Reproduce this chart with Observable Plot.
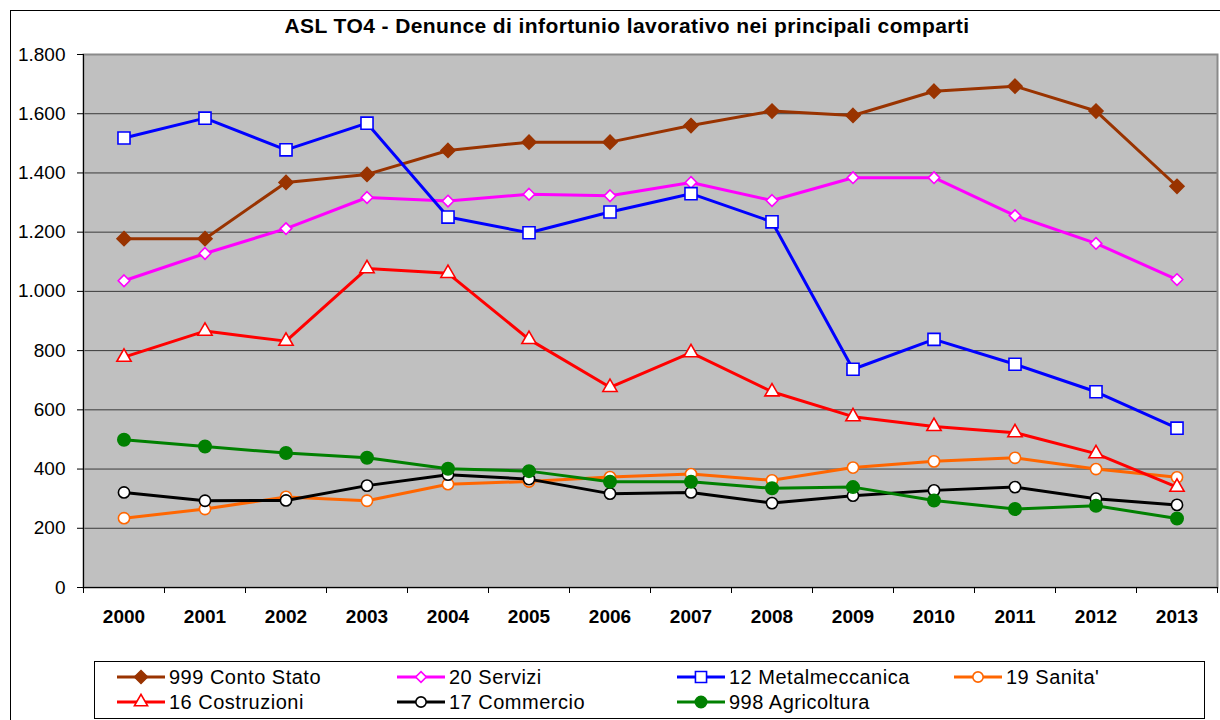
<!DOCTYPE html>
<html>
<head>
<meta charset="utf-8">
<script src="https://cdn.jsdelivr.net/npm/d3@7"></script>
<script src="https://cdn.jsdelivr.net/npm/@observablehq/plot@0.6"></script>
<style>
  html, body { margin: 0; padding: 0; background: #fff; }
  #root { position: relative; width: 1220px; height: 720px; overflow: hidden; font-family: "Liberation Sans", Arial, sans-serif; }
  #outer { position: absolute; left: 10px; top: 10px; width: 1230px; height: 730px; border: 1.5px solid #000; box-sizing: border-box; }
  #title { position: absolute; left: 0; width: 1254px; top: 14px; text-align: center; font-weight: bold; font-size: 21px; letter-spacing: 0.4px; color: #000; }
  #chart { position: absolute; left: 0; top: 0; }
  #legend { position: absolute; left: 94px; top: 661px; width: 1111px; height: 58px; border: 1px solid #000; box-sizing: border-box; background: #fff; }
  .item { position: absolute; height: 24px; display: flex; align-items: center; font-size: 20px; letter-spacing: 0.5px; color: #000; white-space: nowrap; }
  .item svg { margin-right: 3px; }
</style>
</head>
<body>
<div id="root">
  <div id="outer"></div>
  <div id="chart"></div>
  <div id="title">ASL TO4 - Denunce di infortunio lavorativo nei principali comparti</div>
  <div id="legend"></div>
</div>
<script>
// ---- data ----
const years = [2000, 2001, 2002, 2003, 2004, 2005, 2006, 2007, 2008, 2009, 2010, 2011, 2012, 2013];
const seriesNames = ["999 Conto Stato", "20 Servizi", "12 Metalmeccanica", "19 Sanita'", "16 Costruzioni", "17 Commercio", "998 Agricoltura"];
const contoStato     = [1178, 1178, 1368, 1395, 1476, 1504, 1504, 1560, 1609, 1594, 1676, 1693, 1609, 1355];
const servizi        = [1036, 1128, 1212, 1317, 1305, 1328, 1323, 1368, 1307, 1384, 1384, 1256, 1162, 1040];
const metalmeccanica = [1518, 1585, 1478, 1568, 1251, 1198, 1268, 1330, 1235, 737, 838, 754, 661, 538];
const sanita         = [234, 265, 306, 293, 349, 358, 373, 383, 362, 405, 426, 438, 400, 372];
const costruzioni    = [778, 866, 832, 1077, 1061, 838, 676, 793, 661, 577, 544, 523, 452, 339];
const commercio      = [321, 293, 294, 344, 381, 366, 317, 321, 285, 310, 328, 339, 300, 279];
const agricoltura    = [499, 476, 454, 438, 401, 393, 357, 357, 335, 339, 294, 265, 276, 233];
const yTicks = [0, 200, 400, 600, 800, 1000, 1200, 1400, 1600, 1800];

const seriesValues = [contoStato, servizi, metalmeccanica, sanita, costruzioni, commercio, agricoltura];

// ---- styles ----
const styles = [
  {color: "#993300", symbol: "diamond2", fill: "#993300", r: 6.3},
  {color: "#FF00FF", symbol: "diamond2", fill: "#ffffff", r: 5.2},
  {color: "#0000FF", symbol: "square",   fill: "#ffffff", r: 6.8},
  {color: "#FF6600", symbol: "circle",   fill: "#ffffff", r: 5.6},
  {color: "#FF0000", symbol: "triangle", fill: "#ffffff", r: 5.3},
  {color: "#000000", symbol: "circle",   fill: "#ffffff", r: 5.6},
  {color: "#008000", symbol: "circle",   fill: "#008000", r: 6.2}
];

const locale = d3.formatLocale({decimal: ",", thousands: ".", grouping: [3], currency: ["€", ""]});
const fmt = locale.format(",");

const tables = seriesNames.map((name, i) => years.map((y, j) => ({year: y, value: seriesValues[i][j], series: name})));
const boundaries = years.map(y => y - 0.5).concat([years[years.length - 1] + 0.5]);

const marks = [
  Plot.frame({fill: "#C0C0C0", stroke: null}),
  Plot.ruleY(yTicks.filter(d => d > 0), {stroke: "#3a3a3a", strokeWidth: 1}),
  Plot.frame({stroke: "#8a8a8a", strokeWidth: 2}),
  Plot.ruleY([0], {stroke: "#000", strokeWidth: 1}),
  Plot.ruleX([boundaries[0]], {stroke: "#000", strokeWidth: 1}),
  Plot.axisY({ticks: yTicks, tickFormat: fmt, tickSize: 6, tickPadding: 12, fontSize: 19, stroke: "#000", label: null}),
  Plot.axisX({ticks: boundaries, tickFormat: () => "", tickSize: 6, stroke: "#000", label: null}),
  Plot.axisX({ticks: years, tickFormat: d => String(d), tickSize: 0, tickPadding: 22, fontSize: 19, fontWeight: "bold", label: null})
];

tables.forEach((t, i) => {
  const s = styles[i];
  marks.push(Plot.line(t, {x: "year", y: "value", stroke: s.color, strokeWidth: 3, strokeLinejoin: "round"}));
  marks.push(Plot.dot(t, {x: "year", y: "value", symbol: () => s.symbol, r: s.r, fill: s.fill, stroke: s.color, strokeWidth: 1.6}));
});

const chart = Plot.plot({
  width: 1220,
  height: 640,
  marginLeft: 83,
  marginRight: 3,
  marginTop: 54,
  marginBottom: 53,
  style: {fontFamily: "'Liberation Sans', Arial, sans-serif", background: "transparent", color: "#000"},
  x: {domain: [boundaries[0], boundaries[boundaries.length - 1]], axis: null, label: null},
  y: {domain: [0, 1800], axis: null, label: null},
  symbol: {type: "identity"},
  marks
});
document.getElementById("chart").appendChild(chart);

// ---- legend ----
const legend = document.getElementById("legend");
const colX = [21, 301, 581, 858];
seriesNames.forEach((name, i) => {
  const s = styles[i];
  const row = i < 4 ? 0 : 1;
  const col = i < 4 ? i : i - 4;
  const div = document.createElement("div");
  div.className = "item";
  div.style.left = colX[col] + "px";
  div.style.top = (row === 0 ? 3 : 28) + "px";
  const symMap = {diamond2: d3.symbolDiamond2, square: d3.symbolSquare, circle: d3.symbolCircle, triangle: d3.symbolTriangle};
  const size = Math.PI * s.r * s.r * 0.85;
  const path = d3.symbol(symMap[s.symbol], size)();
  div.innerHTML = `<svg width="50" height="20" viewBox="0 0 50 20"><line x1="1" x2="49" y1="10" y2="10" stroke="${s.color}" stroke-width="3"/><path transform="translate(25,10)" d="${path}" fill="${s.fill}" stroke="${s.color}" stroke-width="1.6"/></svg><span>${name}</span>`;
  legend.appendChild(div);
});
</script>
</body>
</html>
